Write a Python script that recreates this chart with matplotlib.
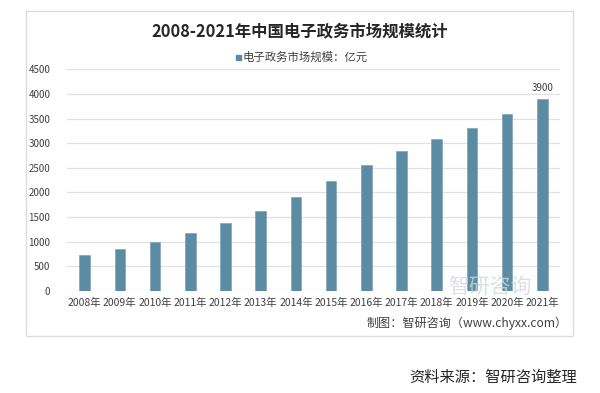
import numpy as np
import matplotlib
matplotlib.use('Agg')
import matplotlib.pyplot as plt
from matplotlib.patches import Rectangle

plt.rcParams['font.family'] = ['Noto Sans CJK SC', 'DejaVu Sans']

# data
years = ['2008年', '2009年', '2010年', '2011年', '2012年', '2013年', '2014年',
         '2015年', '2016年', '2017年', '2018年', '2019年', '2020年', '2021年']
market_size = [740, 845, 1000, 1180, 1380, 1630, 1900,
               2240, 2550, 2850, 3090, 3310, 3590, 3900]
yticks = [0, 500, 1000, 1500, 2000, 2500, 3000, 3500, 4000, 4500]

W, H = 600, 393
fig = plt.figure(figsize=(W/100, H/100), dpi=100)
fig.patch.set_facecolor('white')

# outer chart frame
fig.patches.append(Rectangle((26/W, 1-336/H), (573-26)/W, (336-10.7)/H,
                             transform=fig.transFigure, fill=False,
                             edgecolor='#dcdcdc', linewidth=1))

ax = fig.add_axes([67/W, 1-291/H, (560-67)/W, (291-69.3)/H])
x = np.arange(len(years))
ax.bar(x, market_size, width=0.3, color='#5b8ca3', edgecolor='#7aa6b8',
       linewidth=0.5, zorder=3)
ax.set_xlim(-0.5, len(years)-0.5)
ax.set_ylim(0, 4500)
ax.set_yticks(yticks)
ax.set_yticklabels([str(v) for v in yticks], fontsize=7, color='#404040')
ax.set_xticks(x)
ax.set_xticklabels(years, fontsize=7.5, color='#404040')
ax.tick_params(length=0, pad=5)
ax.tick_params(axis='y', pad=12)
ax.grid(axis='y', color='#e0e0e0', linewidth=0.9, zorder=0)
for s in ax.spines.values():
    s.set_visible(False)

# value label only on the last bar
ax.annotate(str(market_size[-1]), (x[-1], market_size[-1]),
            xytext=(0, 4), textcoords='offset points',
            ha='center', va='bottom', fontsize=7, color='#404040')

fig.text(300/W, 1-32/H, '2008-2021年中国电子政务市场规模统计',
         ha='center', va='center', fontsize=11.8, fontweight='bold', color='#262626')
fig.patches.append(Rectangle((236/W, 1-59.5/H), 5/W, 5/H,
                             transform=fig.transFigure, color='#5b8ca3'))
fig.text(243/W, 1-57/H, '电子政务市场规模：亿元',
         ha='left', va='center', fontsize=8.2, color='#404040')

# faint watermark
fig.text(490/W, 1-287/H, '智研咨询', ha='center', va='center',
         fontsize=15, color='#d0d8e0', alpha=0.8)

fig.text(568/W, 1-323/H, '制图：智研咨询（www.chyxx.com）',
         ha='right', va='center', fontsize=8.7, color='#404040')
fig.text(577/W, 1-377/H, '资料来源：智研咨询整理',
         ha='right', va='center', fontsize=11, color='#262626')

fig.savefig('out.png', dpi=100, facecolor='white')
